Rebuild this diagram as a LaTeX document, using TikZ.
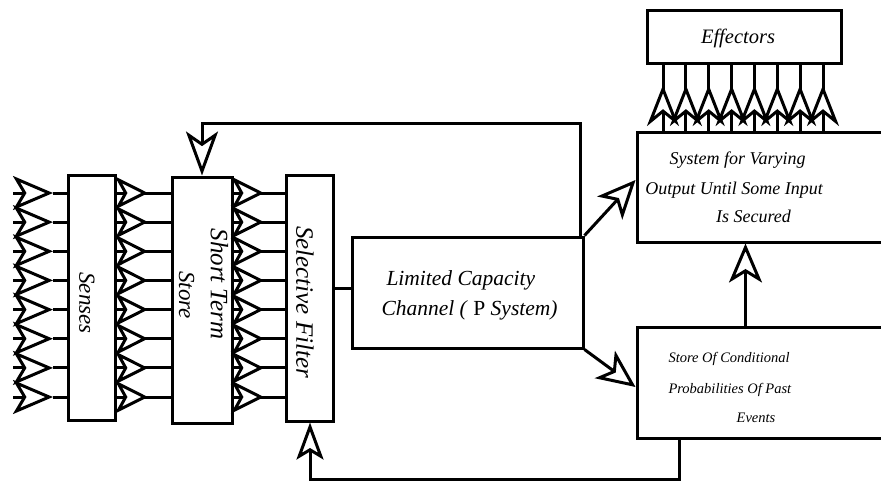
\documentclass[tikz,border=0pt]{standalone}
\usepackage{fontspec}
\setmainfont{Liberation Serif}
\usetikzlibrary{arrows.meta,calc}
\begin{document}
\begin{tikzpicture}[x=1pt,y=-1pt,line width=3pt,
  box/.style={draw,line width=3pt,inner sep=0pt,fill=white},
  lbl/.style={font=\itshape\fontsize{#1}{#1}\selectfont,inner sep=0pt},
  srcTip/.tip={Stealth[length=40pt,width=34pt,inset=10pt,fill=white]},
  midTip/.tip={Stealth[length=33pt,width=33pt,inset=9pt,fill=white]},
  effTip/.tip={Stealth[length=41pt,width=32pt,inset=13pt,fill=white]},
  fbTip/.tip={Stealth[length=44pt,width=32pt,inset=11pt,fill=white]},
  sfTip/.tip={Stealth[length=37pt,width=27pt,inset=8pt,fill=white]},
  bigTip/.tip={Stealth[length=38pt,width=34pt,inset=10pt,fill=white]},
  upTip/.tip={Stealth[length=39pt,width=33pt,inset=10pt,fill=white]}]
\useasboundingbox (0,0) rectangle (881,483);
\clip (0,0) rectangle (881,483);
\fill[white] (0,0) rectangle (881,483);

% boxes
\node[box,minimum width=47pt,minimum height=245pt] (senses) at (91.5,297.5) {};
\node[box,minimum width=60pt,minimum height=246pt] (sts) at (202,300) {};
\node[box,minimum width=47pt,minimum height=246pt] (sf) at (310,298) {};
\node[box,minimum width=231pt,minimum height=111pt] (lcc) at (467.5,292.5) {};
\node[box,minimum width=194pt,minimum height=53pt] (eff) at (744,36.5) {};
\node[box,minimum width=268pt,minimum height=110pt] (sys) at (771,187) {};
\node[box,minimum width=268pt,minimum height=111pt] (store) at (771,382.5) {};

% coordinates for connector bends
\coordinate (fbtop) at (580,123);
\coordinate (fbbot) at (679,479);

% input arrows into senses and between the stages
\foreach \y in {193,222.1,251.3,280.4,309.6,338.7,367.9,397}{
  \draw (senses.west |- 0,\y) -- (53,\y);
  \draw[-srcTip] (13,\y) -- (53,\y);
  \draw (senses.east |- 0,\y) -- (sts.west |- 0,\y);
  \draw[-midTip] (senses.east |- 0,\y) -- (148,\y);
  \draw (sts.east |- 0,\y) -- (sf.west |- 0,\y);
  \draw[-midTip] (sts.east |- 0,\y) -- (264,\y);
}

% filter to channel
\draw (sf.east |- 0,288) -- (lcc.west |- 0,288);

% top feedback to short term store
\draw[-fbTip] (lcc.north east -| fbtop) -- (fbtop) -| (sts.north);

% channel to system and store
\draw[-bigTip] (lcc.north east) -- (sys.west |- 0,180);
\draw[-bigTip] (lcc.south east) -- (store.west |- 0,387);

% store to system
\draw[-upTip] ($(store.north west)+(110,0)$) -- ($(sys.south west)+(110,0)$);

% bottom feedback to selective filter
\draw[-sfTip] (fbbot |- store.south) -- (fbbot) -| (sf.south);

% system to effectors
\foreach \x in {663,685.9,708.7,731.6,754.4,777.3,800.1,823}{
  \draw (sys.north -| \x,0) -- (eff.south -| \x,0);
  \draw[-effTip] (sys.north -| \x,0) -- (\x,85);
}

% labels
\node[lbl=23,rotate=-90] (tsenses) at (87,303) {Senses};
\node[lbl=25,rotate=-90] (tshort) at (219.5,284) {Short Term};
\node[lbl=23,rotate=-90] (tstore) at (186.5,295) {Store};
\node[lbl=25,rotate=-90] (tsf) at (305,302) {Selective Filter};

\node[lbl=21.5,anchor=base west] (tlcc1) at (385,285) {Limited Capacity};
\node[lbl=21.5,anchor=base west] (tlcc2) at (380,315) {Channel ( \textup{P} System)};

\node[lbl=20.5,anchor=base] (teff) at (738,43) {Effectors};

\node[lbl=18,anchor=base] (tsys1) at (737.5,164) {System for Varying};
\node[lbl=18,anchor=base] (tsys2) at (734,194) {Output Until Some Input};
\node[lbl=18,anchor=base] (tsys3) at (753.5,222) {Is Secured};

\node[lbl=14.5,anchor=base west] (tst1) at (667,362) {Store Of Conditional};
\node[lbl=14.5,anchor=base west] (tst2) at (667,393) {Probabilities Of Past};
\node[lbl=14.5,anchor=base] (tst3) at (756,422) {Events};
\end{tikzpicture}
\end{document}
